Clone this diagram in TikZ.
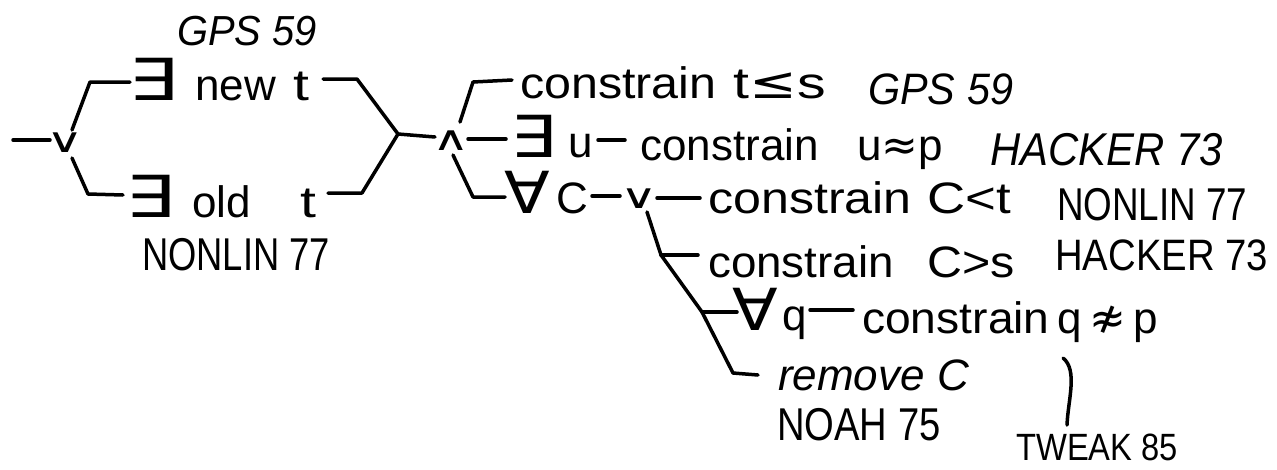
\documentclass[tikz,border=0pt]{standalone}
\usepackage{fontspec}
\usepackage{graphicx}
\setmainfont{Liberation Sans}
\newfontfamily\symf{DejaVu Sans}
\newcommand{\hsc}[2]{\scalebox{#1}[1]{#2}}
\newcommand{\lsz}[1]{\fontsize{#1}{#1}\selectfont}
\tikzset{
  txt/.style={anchor=base west, inner sep=0pt, font=\fontsize{44}{50}\selectfont},
  txti/.style={anchor=base west, inner sep=0pt, font=\fontsize{44}{50}\selectfont\itshape},
  lab/.style={anchor=base west, inner sep=0pt},
  quant/.style={anchor=base west, inner sep=0pt, font=\symf\fontsize{58}{62}\selectfont},
  logic/.style={anchor=center, inner sep=0pt, font=\symf\fontsize{34}{38}\selectfont},
  wire/.style={line width=3.5pt, line cap=round, line join=round},
}
\begin{document}
\begin{tikzpicture}[x=1pt,y=-1pt]
\useasboundingbox (0,0) rectangle (1277,469);
% left part
\coordinate (in) at (13,140);
\coordinate (inE) at (50,140);
\node[logic] (or1) at (65,143) {\hsc{1.5}{∨}};
\coordinate (ua) at (72,130); \coordinate (ub) at (90,82); \coordinate (uc) at (130,82);
\coordinate (la) at (72,158); \coordinate (lb) at (88,194); \coordinate (lc) at (123,195);
\draw[wire] (in) -- (inE);
\draw[wire] (ua) -- (ub) -- (uc);
\draw[wire] (la) -- (lb) -- (lc);
\node[lab, font=\lsz{42}\itshape] (gps1) at (177,45) {\hsc{0.95}{GPS 59}};
\node[quant] (ex1) at (128,100) {\hsc{1.35}{∃}};
\node[txt] (new) at (195,100) {new};
\node[txt] (t1) at (293,100) {\hsc{1.3}{t}};
\node[quant] (ex2) at (125,217) {\hsc{1.35}{∃}};
\node[txt] (old) at (192,217) {old};
\node[txt] (t2) at (300,217) {\hsc{1.3}{t}};
\node[lab, font=\lsz{46}] (nl1) at (142,270) {\hsc{0.79}{NONLIN 77}};
\coordinate (ud) at (323,79); \coordinate (ue) at (357,79);
\coordinate (lf) at (328,193); \coordinate (lg) at (362,193);
\coordinate (meet) at (398,134); \coordinate (meetE) at (435,137);
\draw[wire] (ud) -- (ue) -- (meet);
\draw[wire] (lf) -- (lg) -- (meet);
\draw[wire] (meet) -- (meetE);
\node[logic] (and1) at (451,141) {\hsc{1.5}{∧}};
% row 1
\coordinate (a1) at (460,122); \coordinate (a2) at (473,82); \coordinate (a3) at (512,80);
\draw[wire] (a1) -- (a2) -- (a3);
\node[txt] (con1) at (520,98) {\hsc{1.1}{constrain}};
\node[txt] (tles) at (733,98) {\hsc{1.3}{t{\symf ≤}s}};
\node[lab, font=\lsz{44}\itshape] (gps2) at (868,104) {\hsc{0.94}{GPS 59}};
% row 2
\coordinate (b1) at (468,139); \coordinate (b2) at (506,139);
\draw[wire] (b1) -- (b2);
\node[quant] (ex3) at (510,157) {\hsc{1.25}{∃}};
\node[txt] (u1) at (568,157) {u};
\coordinate (b3) at (598,140); \coordinate (b4) at (625,140);
\draw[wire] (b3) -- (b4);
\node[txt] (con2) at (640,160) {constrain};
\node[txt] (uap) at (857,160) {u{\symf ≈}p};
\node[lab, font=\lsz{46}\itshape] (hk1) at (990,165) {\hsc{0.91}{HACKER 73}};
% row 3
\coordinate (c1) at (453,155); \coordinate (c2) at (473,197); \coordinate (c3) at (505,197);
\draw[wire] (c1) -- (c2) -- (c3);
\node[quant] (fa1) at (504,213) {\hsc{1.15}{∀}};
\node[txt] (C1) at (556,213) {C};
\coordinate (c4) at (592,196); \coordinate (c5) at (620,196);
\draw[wire] (c4) -- (c5);
\node[logic] (or2) at (639,199) {\hsc{1.5}{∨}};
\coordinate (c6) at (657,198); \coordinate (c7) at (700,198);
\draw[wire] (c6) -- (c7);
\node[txt] (con3) at (708,213) {\hsc{1.14}{constrain}};
\node[txt] (clt) at (927,213) {\hsc{1.2}{C<t}};
\node[lab, font=\lsz{46}] (nl2) at (1057,220) {\hsc{0.8}{NONLIN 77}};
% vertical branch of second or
\coordinate (v0) at (647,212); \coordinate (v1) at (661,255);
\coordinate (v2) at (702,312); \coordinate (v3) at (733,373); \coordinate (v4) at (758,375);
\draw[wire] (v0) -- (v1) -- (v2) -- (v3) -- (v4);
% row 4
\coordinate (d1) at (698,255);
\draw[wire] (v1) -- (d1);
\node[txt] (con4) at (708,277) {\hsc{1.04}{constrain}};
\node[txt] (cgs) at (927,277) {\hsc{1.1}{C>s}};
\node[lab, font=\lsz{44}] (hk2) at (1055,270) {\hsc{0.87}{HACKER 73}};
% row 5
\coordinate (e1) at (737,312);
\draw[wire] (v2) -- (e1);
\node[quant] (fa2) at (732,330) {\hsc{1.15}{∀}};
\node[txt] (q1) at (782,330) {q};
\coordinate (e2) at (810,310); \coordinate (e3) at (853,310);
\draw[wire] (e2) -- (e3);
\node[txt] (con5) at (862,333) {\hsc{1.05}{constrain}};
\node[txt] (qnp) at (1057,333) {q\,{\symf ≉}\,p};
% row 6
\node[txti] (rm) at (778,390) {remove C};
\node[lab, font=\lsz{46}] (noah) at (777,440) {\hsc{0.83}{NOAH 75}};
\coordinate (p1) at (1063,358); \coordinate (p2) at (1067,425);
\draw[wire] (p1) .. controls (1078,370) and (1068,400) .. (p2);
\node[lab, font=\lsz{38}] (tw) at (1016,460) {\hsc{0.86}{TWEAK 85}};
\end{tikzpicture}
\end{document}
